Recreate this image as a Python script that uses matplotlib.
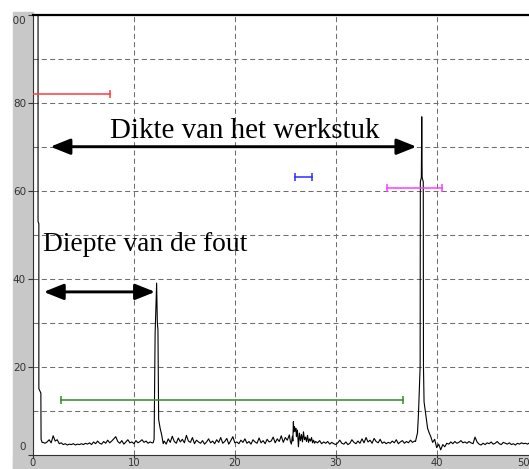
import numpy as np
import matplotlib
matplotlib.use("Agg")
import matplotlib.pyplot as plt
from matplotlib.patches import Rectangle
from matplotlib.transforms import Bbox, TransformedBbox, ScaledTranslation

# A-scan trace: start pulse, flaw echo, back wall echo, noise floor
pulse_x = [0.50, 0.50, 0.58, 0.58, 0.78, 0.80, 0.90]
pulse_y = [110, 53.0, 52.5, 15.0, 14.0, 3.5, 2.8]

noise_a_start = 1.0
noise_a = [2.8, 2.6, 2.9, 3.4, 2.7, 4.3, 3.1, 3.4, 2.5, 2.7, 2.3, 2.5, 2.2, 2.4,
           2.3, 2.5, 2.2, 2.4, 2.3, 2.5, 2.3, 2.6, 2.4, 2.7, 2.3, 2.9, 2.5, 3.1,
           2.6, 2.4, 3.0, 2.6, 3.3, 2.7, 3.1, 3.6, 4.1, 3.0, 2.6, 3.2, 2.4, 2.9,
           3.4, 2.7, 2.9, 2.5, 3.2, 2.7, 3.0, 3.4, 2.8, 3.1, 2.6, 2.9, 2.7]

flaw_x = [11.9, 12.0, 12.03, 12.1, 12.25, 12.32, 12.38, 12.45, 12.6, 12.75, 12.9]
flaw_y = [2.7, 3.5, 11.5, 27.5, 39.0, 30.0, 28.5, 8.0, 6.0, 4.5, 2.5]

noise_b_start = 13.0
noise_b = [3.1, 2.4, 3.6, 2.8, 4.2, 3.0, 2.6, 3.8, 2.9, 3.5, 2.7, 4.4, 3.1, 2.8,
           3.9, 2.5, 3.3, 2.9, 2.6, 3.2, 2.4, 2.9, 3.6, 2.7, 3.1, 2.5, 3.4, 2.8,
           3.9, 2.6, 3.0, 3.7, 2.4, 3.2, 4.1, 2.7, 2.9, 2.5, 3.3, 2.8, 3.6, 2.6,
           3.0, 2.4, 3.4, 2.9, 2.6, 3.8, 2.7, 3.2, 2.5, 3.5, 2.9, 3.1, 4.0, 2.7,
           3.6, 3.0, 4.3, 2.8, 3.9, 3.3, 4.5]

bump_x = [25.5, 25.6, 25.7, 25.75, 25.8, 25.85, 25.9, 26.0, 26.05, 26.1, 26.2,
          26.25, 26.3, 26.4, 26.5, 26.6, 26.7, 26.8, 26.9, 27.0, 27.1, 27.2,
          27.3, 27.4, 27.5, 27.6, 27.7, 27.8, 27.9, 28.0]
bump_y = [3.0, 2.4, 4.2, 3.1, 7.5, 5.2, 6.4, 5.4, 6.0, 4.1, 5.6, 3.6, 1.8, 4.9,
          3.2, 4.6, 2.9, 5.2, 3.4, 4.0, 3.0, 4.4, 2.8, 3.6, 3.1, 3.9, 2.7, 3.3,
          2.6, 3.0]

noise_c_start = 28.2
noise_c = [2.7, 3.2, 2.5, 2.9, 2.6, 3.0, 2.4, 2.8, 2.5, 2.3, 2.7, 3.3, 2.6, 2.4,
           2.9, 2.3, 2.6, 3.4, 2.8, 2.5, 3.1, 2.6, 3.6, 2.7, 3.9, 2.9, 3.3, 2.6,
           3.7, 3.0, 2.7, 3.5, 2.6, 2.9, 2.5, 2.8, 2.6, 3.1, 2.7, 3.4, 2.5, 2.9,
           3.2, 2.6, 3.0, 2.7, 3.3, 2.8, 3.1]

wall_x = [37.9, 38.1, 38.2, 38.36, 38.38, 38.48, 38.52, 38.56, 38.67, 38.69,
          38.75, 38.95, 39.1, 39.25]
wall_y = [3.0, 5.0, 9.5, 20.0, 62.0, 63.0, 76.8, 63.0, 62.0, 20.0, 12.0, 8.5,
          6.0, 5.0]

noise_d_start = 39.4
noise_d = [4.2, 2.8, 3.5, 1.6, 2.4, 1.1, 2.3, 1.8, 2.6, 2.4, 2.9, 2.5, 3.0, 2.6,
           2.8, 3.2, 2.7, 2.9, 2.6, 3.0, 2.7, 2.5, 4.0, 2.9, 2.4, 2.2, 2.6, 2.3,
           2.7, 2.5, 2.9, 2.4, 2.6, 3.0, 2.5, 2.3, 2.8, 2.6, 2.4, 2.7, 2.3, 2.5,
           2.2, 2.6, 2.4, 2.7, 2.5, 2.6, 2.4, 2.7, 2.3, 2.5, 2.6]

# gate markers: (x start, x end, level, colour, left cap)
gates = [(-0.5, 7.6, 82.0, "#ff3c3c", False),
         (26.0, 27.6, 63.0, "#2b2bff", True),
         (35.1, 40.5, 60.7, "#ff3cff", True),
         (2.8, 36.7, 12.4, "#2e8b2e", True)]

thickness_label = "Dikte van het werkstuk"
thickness_span = (1.72, 38.0, 70.0)
depth_label = "Diepte van de fout"
depth_span = (1.06, 12.1, 37.0)

x_ticks = [0, 10, 20, 30, 40, 50]
y_ticks = [0, 20, 40, 60, 80, 100]


def seg(start, vals):
    return start + 0.2 * np.arange(len(vals)), np.asarray(vals)


parts = [(np.asarray(pulse_x), np.asarray(pulse_y)),
         seg(noise_a_start, noise_a),
         (np.asarray(flaw_x), np.asarray(flaw_y)),
         seg(noise_b_start, noise_b),
         (np.asarray(bump_x), np.asarray(bump_y)),
         seg(noise_c_start, noise_c),
         (np.asarray(wall_x), np.asarray(wall_y)),
         seg(noise_d_start, noise_d)]
trace_x = np.concatenate([p[0] for p in parts])
trace_y = np.concatenate([p[1] for p in parts])

W, H = 529, 469
fig = plt.figure(figsize=(W / 100, H / 100), dpi=100)
fig.patch.set_facecolor("white")

# grey instrument frame on the left and bottom
grey = "#c8c8c8"
fig.add_artist(Rectangle((13 / W, 0), 20 / W, (H - 12) / H,
                         transform=fig.transFigure, color=grey, zorder=-2))
fig.add_artist(Rectangle((13 / W, 0), 1, 13 / H,
                         transform=fig.transFigure, color=grey, zorder=-2))

ax = fig.add_axes([33 / W, 14.3 / H, 504.6 / W, 440 / H])
ax.set_xlim(0, 50)
ax.set_ylim(0, 100)

ax.set_xticks(x_ticks)
ax.set_yticks(y_ticks)
ax.set_yticks(np.arange(10, 100, 20), minor=True)
ax.tick_params(which="minor", length=0)
ax.tick_params(which="major", length=3.5, width=0.8, pad=1.5,
               labelsize=7.5, colors="#333333")
ax.tick_params(axis="x", which="major", length=2.2, pad=0.3, labelsize=7.2)
ax.grid(True, which="both", color="#6e6e6e", lw=0.75,
        linestyle=(0, (4.8, 3.2)))
ax.set_axisbelow(True)

ax.spines["right"].set_visible(False)
ax.spines["top"].set_linewidth(1.6)
ax.spines["left"].set_linewidth(0.8)
ax.spines["bottom"].set_linewidth(0.8)
for side in ("left", "bottom"):
    ax.spines[side].set_color("#333333")


def nudge(label, dx, dy):
    label.set_transform(label.get_transform()
                        + ScaledTranslation(dx / 72, dy / 72, fig.dpi_scale_trans))


# end labels are pulled inside the frame; y labels clip to the grey panel
clip = TransformedBbox(Bbox([[13 / W, 0], [1, 1]]), fig.transFigure)
yt = ax.yaxis.get_major_ticks()
for t in yt:
    t.label1.set_clip_box(clip)
    t.label1.set_clip_on(True)
nudge(yt[0].label1, 0, 6)
nudge(yt[-1].label1, 0, -4)
nudge(ax.xaxis.get_major_ticks()[-1].label1, -9.8, 0)

ax.plot(trace_x, trace_y, color="black", lw=0.8, zorder=3)

for x0, x1, lvl, col, left_cap in gates:
    ax.plot([x0, x1], [lvl, lvl], color=col, lw=1.1, zorder=4)
    caps = [x0, x1] if left_cap else [x1]
    ax.plot(caps, [lvl] * len(caps), ls="none", marker="|", ms=5.5,
            mew=1.1, color=col, zorder=4)

arrow = dict(arrowstyle="<|-|>,head_length=0.6,head_width=0.24",
             mutation_scale=20, color="black", lw=2.1, shrinkA=0, shrinkB=0)
for x0, x1, lvl in (thickness_span, depth_span):
    ax.annotate("", xy=(x1, lvl), xytext=(x0, lvl), arrowprops=arrow, zorder=5)

ax.text(7.66, 72.05, thickness_label, family="Liberation Serif",
        fontsize=20.9, va="baseline", ha="left", zorder=6)
ax.text(1.03, 46.3, depth_label, family="Liberation Serif",
        fontsize=19.8, va="baseline", ha="left", zorder=6)

fig.savefig("out.png", dpi=100)
